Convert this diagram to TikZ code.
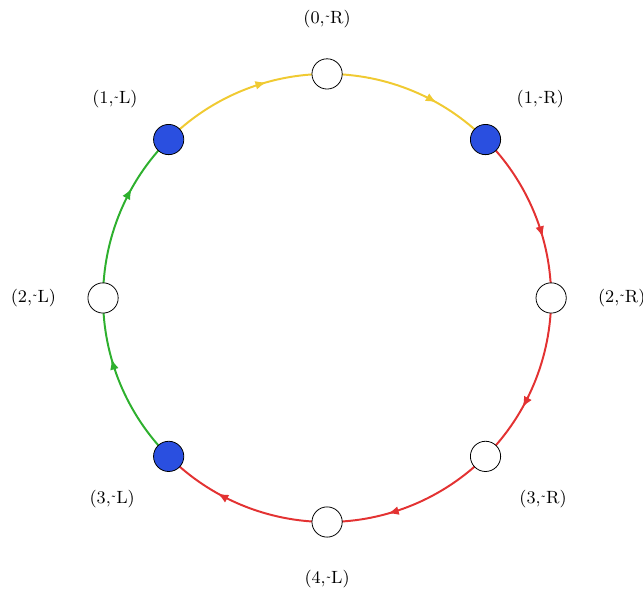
\documentclass[tikz,border=0pt]{standalone}
\usepackage{graphicx}
\usepackage{tikz}
\usetikzlibrary{arrows.meta,positioning,calc,decorations.markings}
\pgfdeclarelayer{back}
\pgfsetlayers{back,main}
\definecolor{RingYellow}{HTML}{F0CA32}
\definecolor{RingRed}{HTML}{E33232}
\definecolor{RingGreen}{HTML}{2EB02E}
\definecolor{RingBlue}{HTML}{2A4FE0}
\newcommand{\tl}{\raisebox{-0.55ex}{\scalebox{0.6}[1]{\char"02DC}}}
\tikzset{
  state/.style={circle, draw=black, fill=white, minimum size=0.54cm, inner sep=0pt},
  stateOn/.style={state, fill=RingBlue},
  tag/.style={font=\small, inner sep=1pt},
  flow/.style={line width=1pt, postaction={decorate},
    decoration={markings, mark=at position 0.65 with {\arrow{Latex[length=5.5pt,width=4.5pt]}}}},
}

\begin{document}
\begin{tikzpicture}
  \useasboundingbox (-5.84,-5.20) rectangle (5.64,5.32);
  % ring of states
  \node[state]   (s0)  at (90:4)   {};
  \node[stateOn] (s1)  at (45:4)   {};
  \node[state]   (s2)  at (0:4)    {};
  \node[state]   (s3)  at (-45:4)  {};
  \node[state]   (s4)  at (-90:4)  {};
  \node[stateOn] (s5)  at (-135:4) {};
  \node[state]   (s6)  at (180:4)  {};
  \node[stateOn] (s7)  at (135:4)  {};
  % labels
  \node[tag, above=0.5cm of s0]        (t0) {(0,\tl R)};
  \node[tag, above right=0.45cm of s1] (t1) {(1,\tl R)};
  \node[tag, right=0.52cm of s2]       (t2) {(2,\tl R)};
  \node[tag, below right=0.52cm of s3] (t3) {(3,\tl R)};
  \node[tag, below=0.55cm of s4]       (t4) {(4,\tl L)};
  \node[tag, below left=0.52cm of s5]  (t5) {(3,\tl L)};
  \node[tag, left=0.52cm of s6]        (t6) {(2,\tl L)};
  \node[tag, above left=0.45cm of s7]  (t7) {(1,\tl L)};
  % transitions, clockwise round the ring
  \begin{pgfonlayer}{back}
    \draw[flow, RingYellow] (s7.center) arc[start angle=135, end angle=90, radius=4];
    \draw[flow, RingYellow] (s0.center) arc[start angle=90, end angle=45, radius=4];
    \draw[flow, RingRed]    (s1.center) arc[start angle=45, end angle=0, radius=4];
    \draw[flow, RingRed]    (s2.center) arc[start angle=0, end angle=-45, radius=4];
    \draw[flow, RingRed]    (s3.center) arc[start angle=-45, end angle=-90, radius=4];
    \draw[flow, RingRed]    (s4.center) arc[start angle=-90, end angle=-135, radius=4];
    \draw[flow, RingGreen]  (s5.center) arc[start angle=-135, end angle=-180, radius=4];
    \draw[flow, RingGreen]  (s6.center) arc[start angle=180, end angle=135, radius=4];
  \end{pgfonlayer}
\end{tikzpicture}
\end{document}
